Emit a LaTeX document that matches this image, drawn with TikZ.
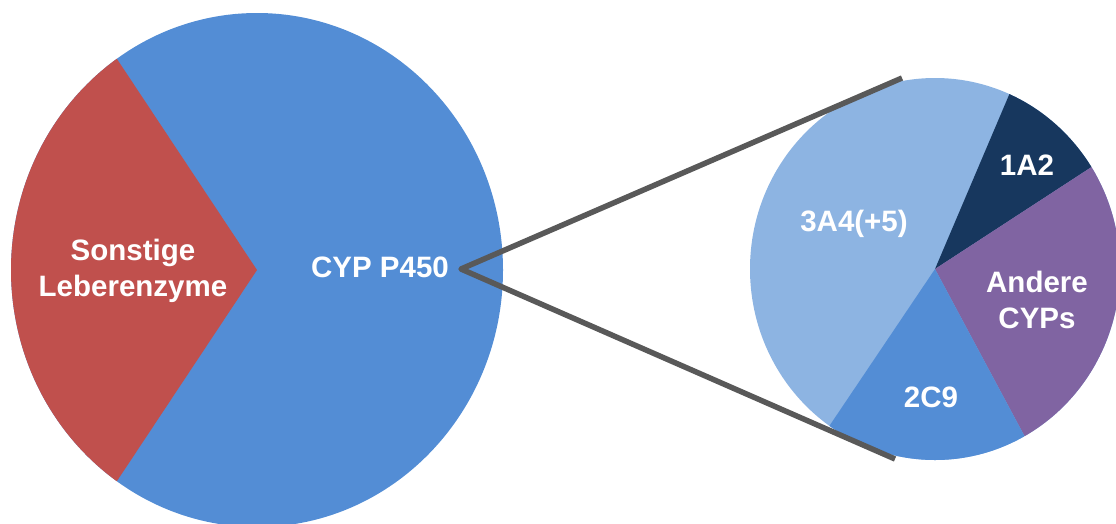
\documentclass[tikz,border=0pt]{standalone}
\usepackage{fontspec}
\setmainfont{Liberation Sans}
\usetikzlibrary{calc}
\definecolor{cypblue}{RGB}{83,141,213}
\definecolor{leberred}{RGB}{192,80,77}
\definecolor{lightblue}{RGB}{141,180,226}
\definecolor{cypnavy}{RGB}{23,55,94}
\definecolor{cyppurple}{RGB}{128,100,162}
\definecolor{zoomgray}{RGB}{89,89,89}
\begin{document}
\begin{tikzpicture}[x=1pt,y=-1pt,
  lbl/.style={text=white,font=\fontsize{29.5}{36}\selectfont\bfseries,align=center,inner sep=0pt},
  zoomline/.style={draw=zoomgray,line width=5.5pt,line join=round},
  bigpie/.style={x radius=246pt,y radius=257pt},
  smallpie/.style={x radius=185pt,y radius=191pt}]
\useasboundingbox (0,0) rectangle (1116,523);
\clip (0,0) rectangle (1116,523);
% big pie
\coordinate (bigc) at (257,270);
\coordinate (rb1) at (117,59);
\coordinate (rb2) at (117,481);
\fill[cypblue] (bigc) ellipse [bigpie];
\begin{scope}
  \clip (bigc) -- ($(bigc)!2!(rb1)$) -- (-400,270) -- ($(bigc)!2!(rb2)$) -- cycle;
  \fill[leberred] (bigc) ellipse [bigpie];
\end{scope}
% small pie
\coordinate (smc) at (935,269);
\coordinate (p1) at (1009,95);
\coordinate (p2) at (1090,168);
\coordinate (p3) at (1025,437);
\coordinate (p4) at (830,425);
\fill[lightblue] (smc) ellipse [smallpie];
\begin{scope}
  \clip (smc) -- ($(smc)!2!(p1)$) -- ($(smc)!2!(p2)$) -- cycle;
  \fill[cypnavy] (smc) ellipse [smallpie];
\end{scope}
\begin{scope}
  \clip (smc) -- ($(smc)!2!(p2)$) -- (1500,269) -- ($(smc)!2!(p3)$) -- cycle;
  \fill[cyppurple] (smc) ellipse [smallpie];
\end{scope}
\begin{scope}
  \clip (smc) -- ($(smc)!2!(p3)$) -- ($(smc)!2!(p4)$) -- cycle;
  \fill[cypblue] (smc) ellipse [smallpie];
\end{scope}
% labels
\node[lbl] (sonst) at (133,271) {Sonstige\\Leberenzyme};
\node[lbl,anchor=base] (cyp) at (380,277) {CYP P450};
\node[lbl,anchor=base] (a3a4) at (854,231) {3A4(+5)};
\node[lbl,anchor=base] (a1a2) at (1027,175) {1A2};
\node[lbl] (andere) at (1037,300) {Andere\\CYPs};
\node[lbl,anchor=base] (a2c9) at (931,407) {2C9};
% zoom lines
\coordinate (apex) at (461,269);
\coordinate (ztop) at (902,78);
\coordinate (zbot) at (895,459);
\draw[zoomline] (ztop) -- (apex) -- (zbot);
\end{tikzpicture}
\end{document}
